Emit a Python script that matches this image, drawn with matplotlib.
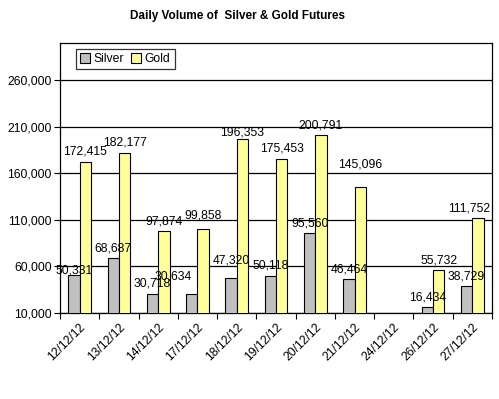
import numpy as np
import matplotlib
matplotlib.use("Agg")
import matplotlib.pyplot as plt

dates = ["12/12/12", "13/12/12", "14/12/12", "17/12/12", "18/12/12", "19/12/12",
         "20/12/12", "21/12/12", "24/12/12", "26/12/12", "27/12/12"]
silver = [50331, 68687, 30718, 30634, 47320, 50118, 95560, 46464, np.nan, 16434, 38729]
gold = [172415, 182177, 97874, 99858, 196353, 175453, 200791, 145096, np.nan, 55732, 111752]

# hand-placed label nudges from the original (pixels: dx, dy up)
silver_nudge = {0: (0, -5), 3: (-19, 7), 4: (0, 8)}
gold_nudge = {3: (0, 4), 4: (0, -3), 7: (0, 13), 10: (-9, 0)}

plt.rcParams['font.family'] = ['Liberation Sans', 'DejaVu Sans']

fig = plt.figure(figsize=(4.99, 3.99), dpi=100)
ax = fig.add_axes([60 / 499, 1 - 313 / 399, 432 / 499, 270 / 399])

x = np.arange(len(dates))
w = 0.29
ax.bar(x - w / 2, silver, w, color='#C0C0C0', edgecolor='black',
       linewidth=0.8, label='Silver', zorder=3)
ax.bar(x + w / 2, gold, w, color='#FFFF99', edgecolor='black',
       linewidth=0.8, label='Gold', zorder=3)

ax.set_ylim(10000, 300000)
ax.set_xlim(-0.5, len(dates) - 0.5)
ax.set_yticks(range(10000, 300000, 50000))
ax.set_yticklabels([f"{v:,}" for v in range(10000, 300000, 50000)], fontsize=8.7)
ax.yaxis.grid(True, color='black', linewidth=0.9, zorder=0)
ax.set_axisbelow(True)

ax.set_xticks(x)
ax.set_xticklabels(dates, rotation=45, ha='right', rotation_mode='anchor', fontsize=8.7)
ax.tick_params(axis='x', length=0, pad=6)
ax.set_xticks(np.arange(len(dates) + 1) - 0.5, minor=True)
ax.tick_params(axis='x', which='minor', length=4, width=0.8, direction='out')
ax.tick_params(axis='y', length=4, width=0.8, direction='out', pad=2)
for s in ax.spines.values():
    s.set_linewidth(0.9)


def px(p):
    return p * 72 / 100


for vals, off, nudge in [(silver, -w / 2, silver_nudge), (gold, w / 2, gold_nudge)]:
    for i, v in enumerate(vals):
        if np.isnan(v):
            continue
        dx, dy = nudge.get(i, (0, 0))
        ax.annotate(f"{int(v):,}", (x[i] + off, v), xytext=(px(dx), px(10 + dy)),
                    textcoords='offset points', ha='center', va='center',
                    fontsize=8.7, zorder=5, annotation_clip=False)

leg = ax.legend(loc='upper left', bbox_to_anchor=(16 / 432, 1 - 6 / 270), ncol=2,
                fontsize=8.7, frameon=True, fancybox=False, handlelength=0.8,
                handleheight=0.8, handletextpad=0.3, columnspacing=0.6,
                borderpad=0.35, borderaxespad=0)
leg.get_frame().set_edgecolor('black')
leg.get_frame().set_linewidth(0.9)

fig.text(238 / 499, 1 - 16 / 399, "Daily Volume of  Silver & Gold Futures",
         ha='center', va='center', fontsize=8.5, fontweight='bold')

fig.savefig("out.png", dpi=100)
